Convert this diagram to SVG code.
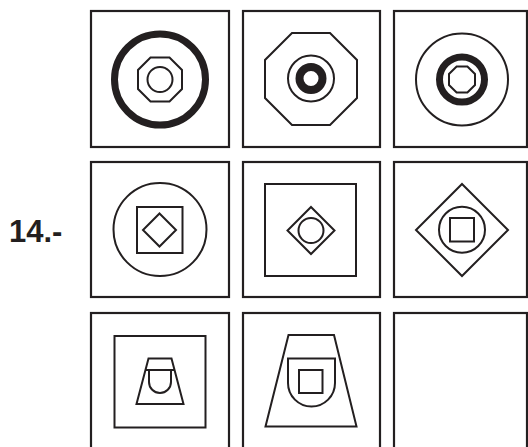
<svg xmlns="http://www.w3.org/2000/svg" width="528" height="447" viewBox="0 0 528 447">
<style>
.box{fill:none;stroke:#231f20;stroke-width:2.2}
.ln{fill:none;stroke:#231f20;stroke-width:2}
.lbl{font-family:"Liberation Sans",Arial,sans-serif;font-weight:bold;font-size:31px;fill:#231f20}
</style>
<rect width="528" height="447" fill="#ffffff"/>
<text class="lbl" x="9" y="242">14.-</text>
<g id="cell-1-1">
<rect class="box" x="91" y="11" width="138" height="136"/>
<circle cx="160" cy="79.5" r="45.5" fill="none" stroke="#231f20" stroke-width="7"/>
<polygon class="ln" points="150.5,57.5 169.5,57.5 182,70 182,89 169.5,101.5 150.5,101.5 138,89 138,70"/>
<circle class="ln" cx="160" cy="79.5" r="12.5"/>
</g>
<g id="cell-1-2">
<rect class="box" x="243" y="11" width="137" height="136"/>
<polygon class="ln" points="292,33 330,33 357,60 357,98 330,125 292,125 265,98 265,60"/>
<circle class="ln" cx="311" cy="78.5" r="23"/>
<circle cx="311" cy="78.5" r="11.5" fill="none" stroke="#231f20" stroke-width="8"/>
</g>
<g id="cell-1-3">
<rect class="box" x="394" y="11" width="133" height="136"/>
<circle class="ln" cx="462" cy="79.5" r="46"/>
<circle cx="462" cy="79.5" r="22.5" fill="none" stroke="#231f20" stroke-width="7"/>
<polygon class="ln" points="456.6,66.5 467.4,66.5 475,74 475,85 467.4,92.5 456.6,92.5 449,85 449,74"/>
</g>
<g id="cell-2-1">
<rect class="box" x="91" y="162" width="138" height="135"/>
<circle class="ln" cx="160" cy="229.5" r="46.5"/>
<rect class="ln" x="137" y="207" width="45.5" height="46"/>
<polygon class="ln" points="159.5,213.5 176,230 159.5,246.5 143,230"/>
</g>
<g id="cell-2-2">
<rect class="box" x="243" y="162" width="137" height="135"/>
<rect class="ln" x="265" y="184" width="91" height="92"/>
<polygon class="ln" points="311,207 334.5,230.5 311,254 287.5,230.5"/>
<circle class="ln" cx="311" cy="230.5" r="12.5"/>
</g>
<g id="cell-2-3">
<rect class="box" x="394" y="162" width="133" height="135"/>
<polygon class="ln" points="462,184 508,230 462,276 416,230"/>
<circle class="ln" cx="462" cy="229.7" r="23"/>
<rect class="ln" x="450" y="218" width="24" height="23.5"/>
</g>
<g id="cell-3-1">
<rect class="box" x="91" y="313" width="138" height="150"/>
<rect class="ln" x="114.5" y="336" width="91" height="91.5"/>
<polygon class="ln" points="148.5,358.5 171.5,358.5 183.5,404 136.5,404"/>
<path class="ln" d="M146,370 H174 M149,370 V382 A11,11 0 0 0 171,382 V370"/>
</g>
<g id="cell-3-2">
<rect class="box" x="243" y="313" width="137" height="150"/>
<polygon class="ln" points="288.5,335 334,335 356.5,426.5 265.5,426.5"/>
<path class="ln" d="M288,358.5 H335 V383 A23.5,23.5 0 0 1 288,383 Z"/>
<rect class="ln" x="299" y="370" width="23.5" height="23"/>
</g>
<g id="cell-3-3">
<rect class="box" x="394" y="313" width="133" height="150"/>
</g>
</svg>
